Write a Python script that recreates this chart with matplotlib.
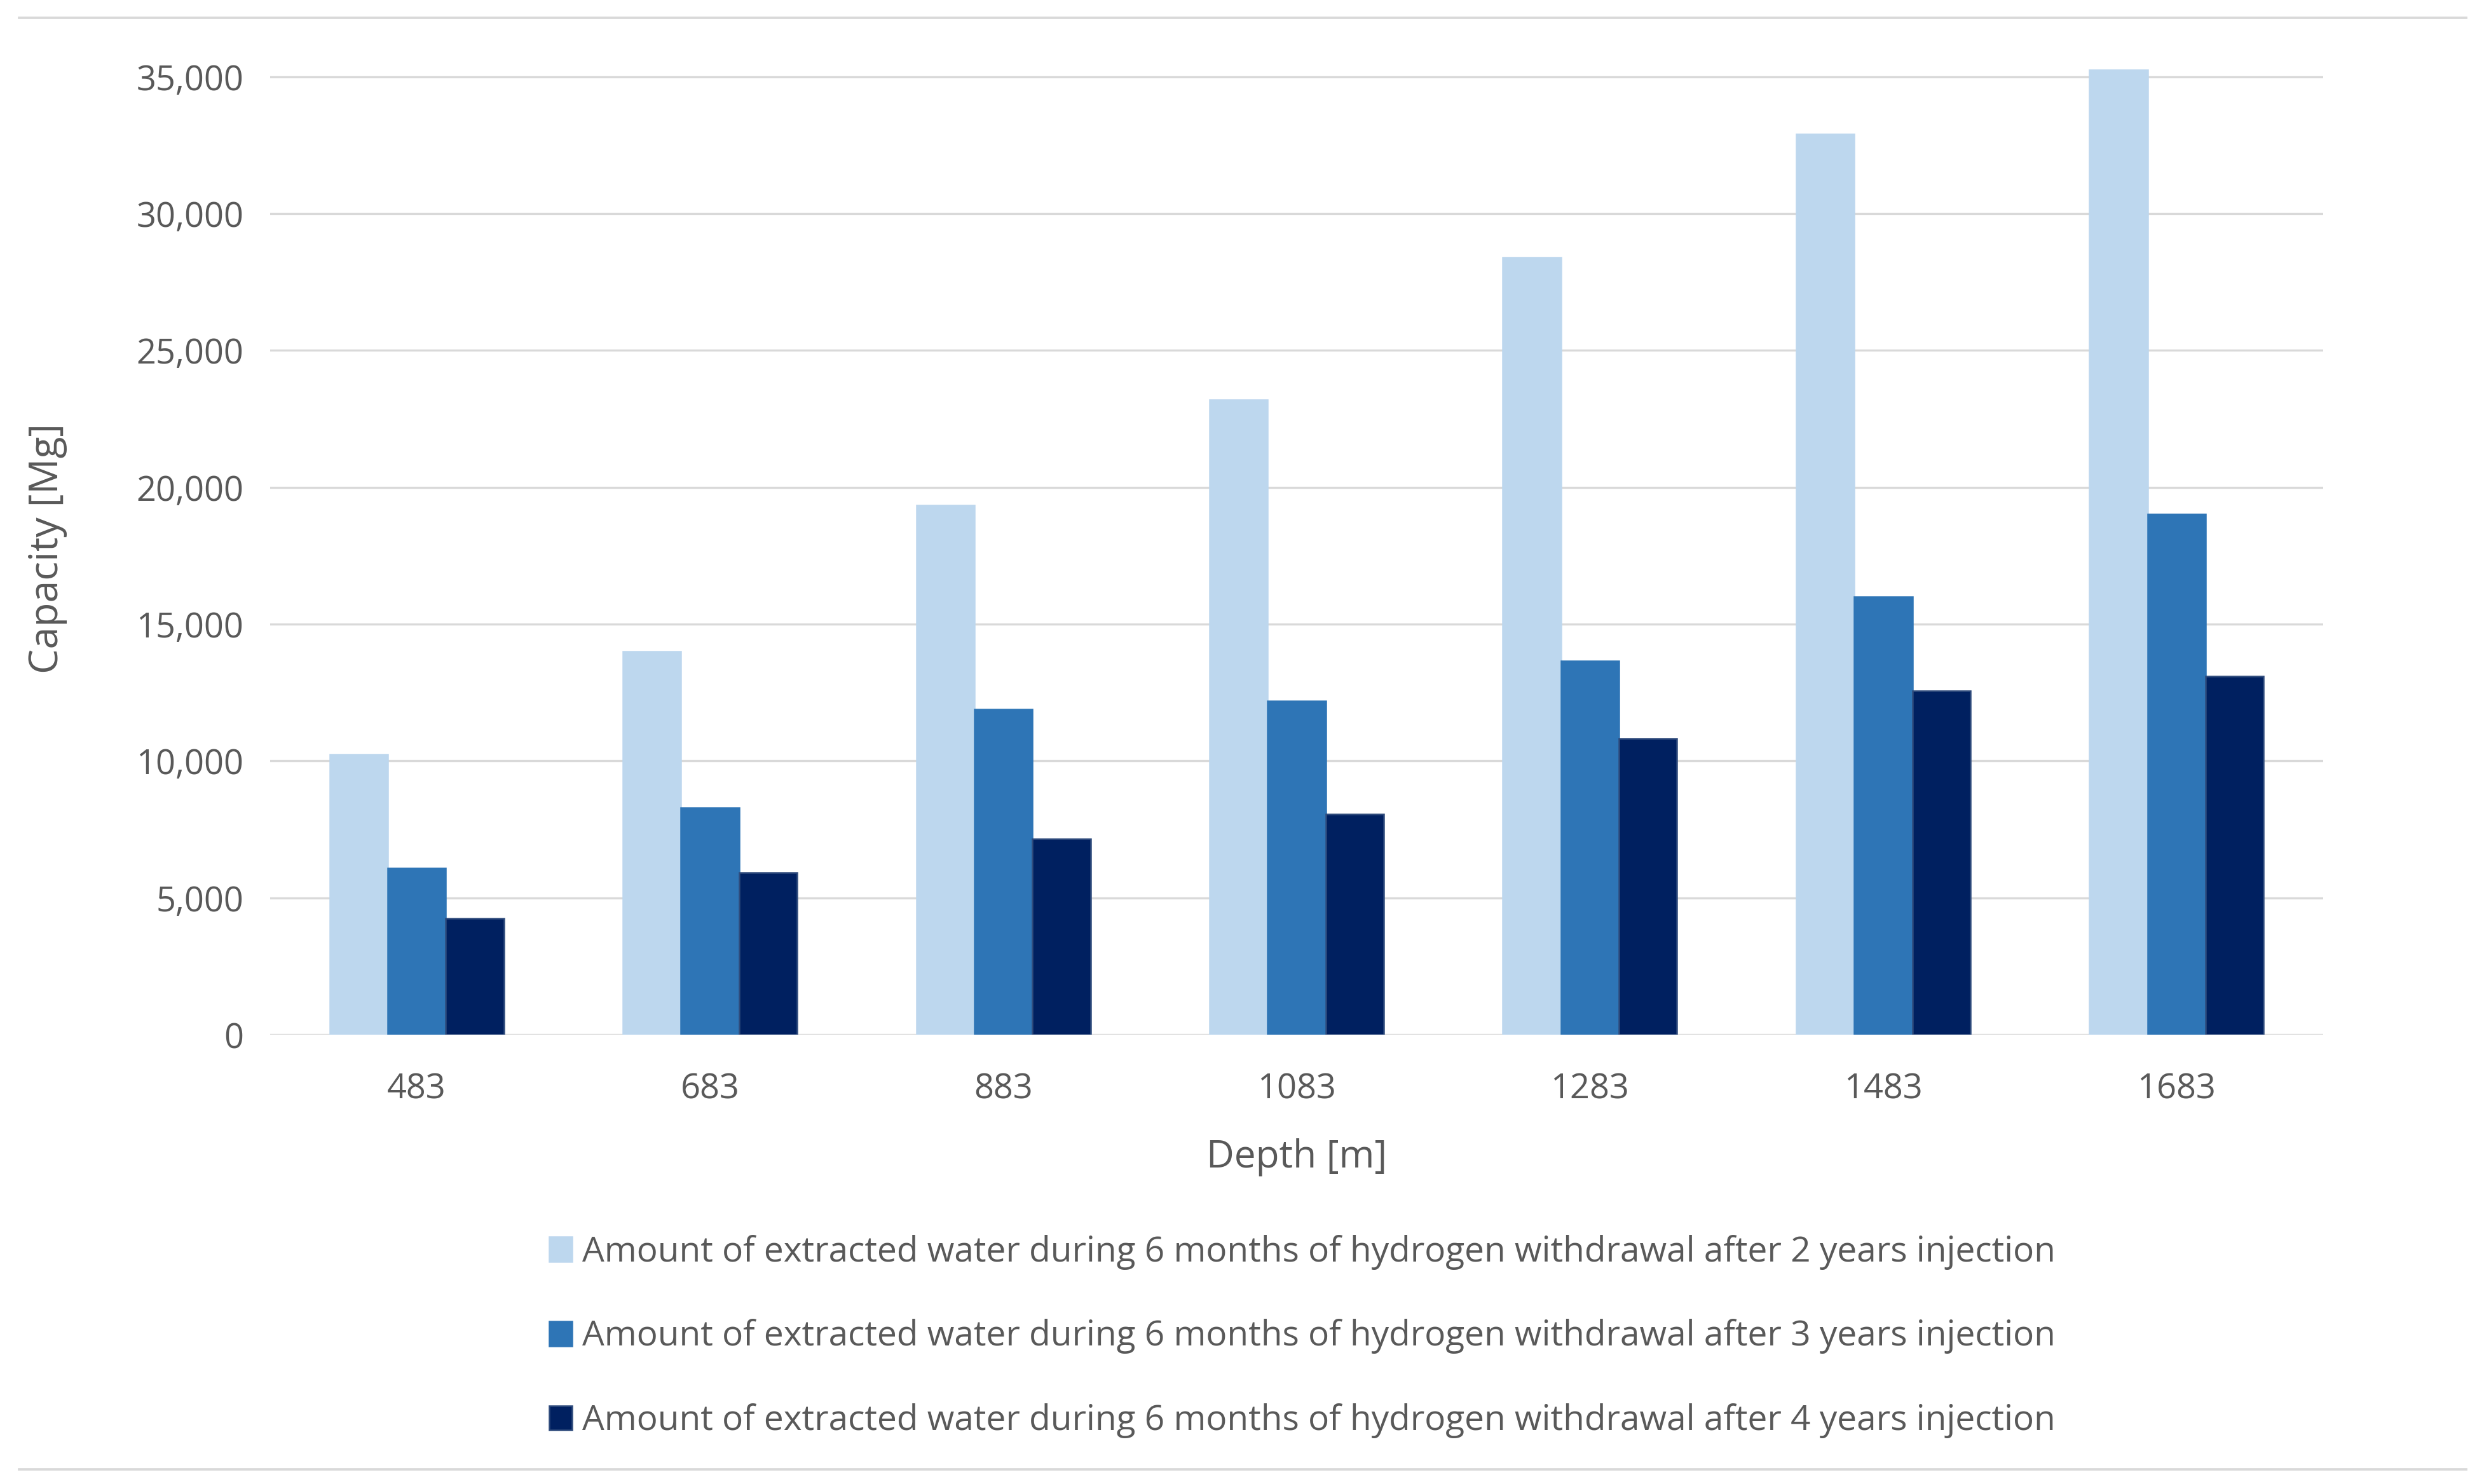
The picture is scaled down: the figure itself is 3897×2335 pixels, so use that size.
import matplotlib.pyplot as plt
import numpy as np
from matplotlib.lines import Line2D
from matplotlib.ticker import FuncFormatter

plt.rcParams['font.family'] = ['Open Sans', 'DejaVu Sans']

depths = ['483', '683', '883', '1083', '1283', '1483', '1683']
water_2y = [10250, 14000, 19350, 23200, 28400, 32900, 35250]
water_3y = [6080, 8300, 11880, 12180, 13650, 16000, 19020]
water_4y = [4260, 5930, 7150, 8060, 10820, 12550, 13100]
labels = ['Amount of extracted water during 6 months of hydrogen withdrawal after 2 years injection',
          'Amount of extracted water during 6 months of hydrogen withdrawal after 3 years injection',
          'Amount of extracted water during 6 months of hydrogen withdrawal after 4 years injection']
colors = ['#BDD7EE', '#2E75B6', '#002060']
edges = ['#BDD7EE', '#2E75B6', '#2F4B7C']
txt = '#595959'
grid = '#D9D9D9'

W, H = 3897, 2335
fig = plt.figure(figsize=(W/300, H/300), dpi=300)
ax = fig.add_axes([425/W, 1 - 1628/H, (3655-425)/W, (1628-99)/H])

x = np.arange(len(depths))
bw = 0.198
for i, vals in enumerate([water_2y, water_3y, water_4y]):
    ax.bar(x + (i-1)*bw, vals, width=bw, color=colors[i], edgecolor=edges[i],
           linewidth=0.6, label=labels[i], zorder=3)

ax.set_xlim(-0.5, len(depths)-0.5)
ax.set_ylim(0, 35500)
ax.set_yticks(np.arange(0, 35001, 5000))
ax.yaxis.set_major_formatter(FuncFormatter(lambda v, p: '{:,.0f}'.format(v)))
ax.set_xticks(x)
ax.set_xticklabels(depths)
ax.grid(axis='y', color=grid, linewidth=0.8, zorder=0)
for s in ['top', 'right', 'left', 'bottom']:
    ax.spines[s].set_visible(False)
ax.tick_params(length=0, labelsize=13, colors=txt)
ax.tick_params(axis='y', pad=10)
ax.tick_params(axis='x', pad=14)
ax.set_xlabel('Depth [m]', fontsize=14.5, color=txt, labelpad=12)
ax.set_ylabel('Capacity [Mg]', fontsize=15, color=txt, labelpad=26)

fig.legend(loc='center left', bbox_to_anchor=(864/W, 1 - 2103/H), frameon=False,
           fontsize=13.2, labelcolor=txt, handlelength=0.65, handleheight=0.7,
           handletextpad=0.3, labelspacing=1.41, borderpad=0, borderaxespad=0)

fig.add_artist(Line2D([30/W, 3880/W], [1 - 28/H, 1 - 28/H], color=grid, linewidth=0.9))
fig.add_artist(Line2D([30/W, 3880/W], [1 - 2312/H, 1 - 2312/H], color=grid, linewidth=0.9))

fig.savefig('out.png', dpi=300, facecolor='white')
